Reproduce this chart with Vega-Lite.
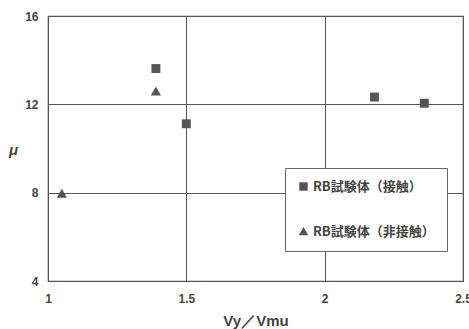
{
  "$schema": "https://vega.github.io/schema/vega-lite/v6.json",
  "width": 415,
  "height": 265,
  "autosize": {"type": "none"},
  "padding": {"left": 48, "top": 16, "right": 6, "bottom": 48},
  "background": "white",
  "config": {
    "view": {"stroke": "#555", "strokeWidth": 1.2},
    "font": "Liberation Sans"
  },
  "data": {
    "values": [
      {"vr": 1.39, "mu": 13.62, "type": "RB試験体（接触）"},
      {"vr": 1.50, "mu": 11.12, "type": "RB試験体（接触）"},
      {"vr": 2.18, "mu": 12.33, "type": "RB試験体（接触）"},
      {"vr": 2.36, "mu": 12.05, "type": "RB試験体（接触）"},
      {"vr": 1.05, "mu": 7.95, "type": "RB試験体（非接触）"},
      {"vr": 1.39, "mu": 12.58, "type": "RB試験体（非接触）"}
    ]
  },
  "mark": {"type": "point", "filled": true, "opacity": 1, "size": 80, "color": "#555"},
  "encoding": {
    "x": {
      "field": "vr", "type": "quantitative",
      "scale": {"domain": [1, 2.5], "nice": false, "zero": false},
      "axis": {
        "values": [1, 1.5, 2, 2.5], "format": "~g", "title": "Vy／Vmu",
        "domain": false, "ticks": false, "grid": true, "gridColor": "#555", "gridOpacity": 1, "gridWidth": 1,
        "labelFontSize": 12, "labelFontWeight": "bold", "labelColor": "#444", "labelPadding": 12,
        "labelOverlap": false, "labelBound": false, "labelFlush": false,
        "titleFontSize": 15, "titleFontWeight": "bold", "titleColor": "#444", "titlePadding": 9
      }
    },
    "y": {
      "field": "mu", "type": "quantitative",
      "scale": {"domain": [4, 16], "nice": false, "zero": false},
      "axis": {
        "values": [4, 8, 12, 16], "title": "μ",
        "domain": false, "ticks": false, "grid": true, "gridColor": "#555", "gridOpacity": 1, "gridWidth": 1,
        "labelFontSize": 12, "labelFontWeight": "bold", "labelColor": "#444", "labelPadding": 10,
        "labelOverlap": false, "labelBound": false, "labelFlush": false,
        "titleFontSize": 15, "titleFontStyle": "italic", "titleColor": "#444", "titleAngle": 0,
        "titleX": -35, "titleY": 133, "titleAlign": "center", "titleBaseline": "middle"
      }
    },
    "shape": {
      "field": "type", "type": "nominal",
      "scale": {"domain": ["RB試験体（接触）", "RB試験体（非接触）"], "range": ["square", "M0,-1.1L1.15,0.9L-1.15,0.9Z"]},
      "legend": {
        "title": null, "orient": "none", "legendX": 237, "legendY": 152,
        "fillColor": "white", "strokeColor": "#666",
        "padding": 12, "rowPadding": 29, "labelFontSize": 13, "labelColor": "#444", "labelFontWeight": "bold",
        "labelFont": "Noto Sans CJK JP", "labelOffset": 3, "symbolSize": 70,
        "symbolFillColor": "#555", "symbolStrokeColor": "#555", "labelLimit": 200
      }
    }
  }
}
